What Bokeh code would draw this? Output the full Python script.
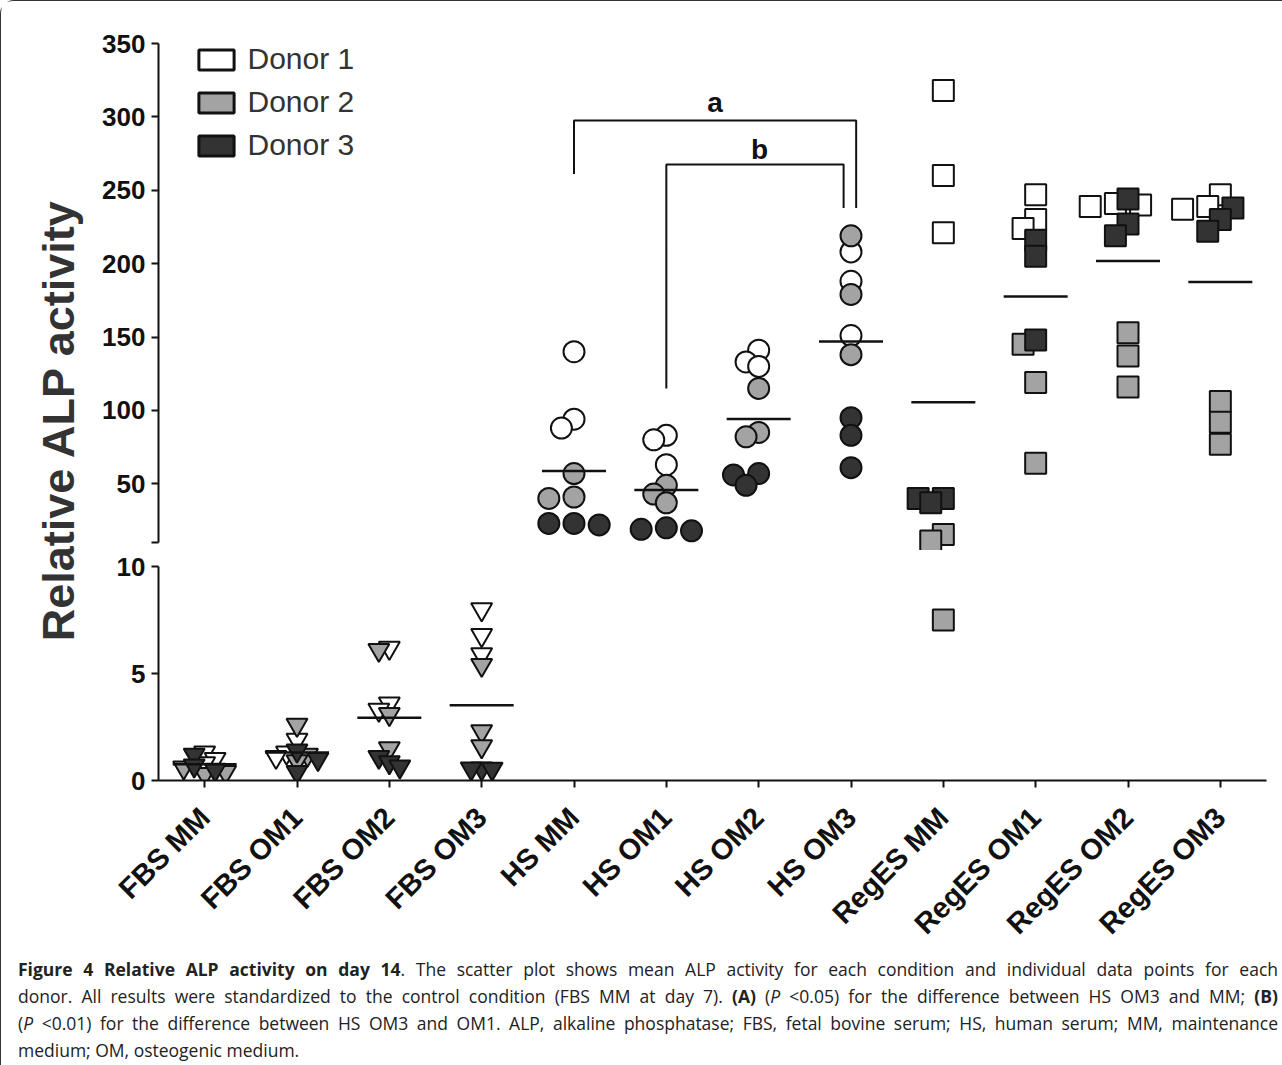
import numpy as np
from bokeh.plotting import figure
from bokeh.models import (Range1d, FixedTicker, Label, Legend, LegendItem, Div,
                          ColumnDataSource)
from bokeh.layouts import column, row
from bokeh.embed import file_html
from bokeh.resources import INLINE
from bokeh.core.properties import value

# ---------------- data ----------------
categories = ["FBS MM", "FBS OM1", "FBS OM2", "FBS OM3",
              "HS MM", "HS OM1", "HS OM2", "HS OM3",
              "RegES MM", "RegES OM1", "RegES OM2", "RegES OM3"]

donor1 = [[1.3, 1.0, 0.8], [1.9, 1.3, 1.1], [6.2, 3.6, 3.3], [8.0, 6.8, 5.9],
          [140, 94, 88], [83, 80, 63], [141, 133, 130], [208, 188, 151],
          [318, 260, 221], [247, 230, 224], [240, 239, 241], [247, 239, 237]]
donor2 = [[0.6, 0.4, 0.3], [2.6, 1.2, 0.9], [6.1, 3.1, 1.5], [5.4, 2.3, 1.6],
          [57, 41, 40], [49, 43, 37], [115, 85, 82], [219, 179, 138],
          [15.5, 11, 7.5], [145, 119, 64], [153, 137, 116], [106, 92, 77]]
donor3 = [[1.2, 0.7, 0.5], [1.4, 1.0, 0.4], [1.1, 0.85, 0.65], [0.56, 0.55, 0.56],
          [23, 22, 23], [20, 18, 19], [57, 56, 49], [95, 83, 61],
          [40, 40, 37], [216, 205, 148], [244, 227, 219], [238, 230, 222]]

donor_names = ["Donor 1", "Donor 2", "Donor 3"]
donor_colors = ["#ffffff", "#a3a3a3", "#333333"]
serum_markers = {"FBS": "inverted_triangle", "HS": "circle", "RegES": "square"}

upper_ticks = [10, 50, 100, 150, 200, 250, 300, 350]
lower_ticks = [0, 5, 10]
axis_break = 10

# significance brackets: (left category, right category, left foot, top, right foot, label)
brackets = [("HS MM", "HS OM3", 261, 297.5, 238, "a"),
            ("HS OM1", "HS OM3", 115, 267.6, 238, "b")]

caption_lines = [
    "<b>Figure 4 Relative ALP activity on day 14</b>. The scatter plot shows mean ALP "
    "activity for each condition and individual data points for each",
    "donor. All results were standardized to the control condition (FBS MM at day 7). "
    "<b>(A)</b> (<i>P</i> &lt;0.05) for the difference between HS OM3 and MM; <b>(B)</b>",
    "(<i>P</i> &lt;0.01) for the difference between HS OM3 and OM1. ALP, alkaline "
    "phosphatase; FBS, fetal bovine serum; HS, human serum; MM, maintenance",
    "medium; OM, osteogenic medium.",
]

# ---------------- geometry ----------------
FONT = "Liberation Sans"
frame_w = 1109
top_border = 42
up_frame_h = 507
lo_frame_h = 230
bottom_border = 176
up_range = (4.55, 350)
lo_range = (0, 10.75)
x_range = Range1d(-0.5, len(categories) - 0.5)

px_per_x = frame_w / (x_range.end - x_range.start)
px_up = up_frame_h / (up_range[1] - up_range[0])
px_lo = lo_frame_h / (lo_range[1] - lo_range[0])

MSIZE = 21


def swarm(ypx, d=MSIZE, step=0.6, mind=0.62, kmax=3):
    """simple beeswarm: horizontal offsets (px) for points at vertical pixel positions"""
    n = len(ypx)
    cands = [0.0]
    for k in range(1, kmax + 1):
        cands += [-k * step * d, k * step * d]
    order = sorted(range(n), key=lambda i: -ypx[i])
    placed, offs = [], [0.0] * n
    for i in order:
        y = ypx[i]
        best, bestd, bestc = None, -1, 0.0
        for c in cands:
            md = min([np.hypot(c - ox, y - oy) for ox, oy in placed] + [1e9])
            if md >= mind * d:
                best = c
                break
            if md > bestd:
                bestd, bestc = md, c
        if best is None:
            best = bestc
        placed.append((best, y))
        offs[i] = best
    return offs


def empty():
    return dict(x=[], y=[], marker=[], fill=[])


pts = {"upper": [empty() for _ in donor_names], "lower": [empty() for _ in donor_names]}
means = {"upper": dict(x=[], y=[]), "lower": dict(x=[], y=[])}
all_donors = [donor1, donor2, donor3]
for ci, cat in enumerate(categories):
    marker = serum_markers[cat.split()[0]]
    vals, donors = [], []
    for di, dd in enumerate(all_donors):
        for v in dd[ci]:
            vals.append(v)
            donors.append(di)
    lower = cat.startswith("FBS")
    ypx = [(v * px_up + 10000) if v >= axis_break else v * px_lo for v in vals]
    offs = swarm(ypx, step=0.5, mind=0.5, kmax=2) if lower else swarm(ypx)
    for v, di, o in zip(vals, donors, offs):
        panel = "upper" if v >= axis_break else "lower"
        d = pts[panel][di]
        d["x"].append(ci + o / px_per_x)
        d["y"].append(v)
        d["marker"].append(marker)
        d["fill"].append(donor_colors[di])
    m = float(np.mean(vals))
    mp = "upper" if m >= axis_break else "lower"
    means[mp]["x"].append(ci)
    means[mp]["y"].append(m)


def style_yaxis(p, ticks, bounds, overrides=None):
    ax = p.yaxis[0]
    ax.ticker = FixedTicker(ticks=ticks)
    ax.bounds = bounds
    if overrides:
        ax.major_label_overrides = overrides
    ax.axis_line_width = 2
    ax.axis_line_color = "#111111"
    ax.major_tick_line_width = 2
    ax.major_tick_line_color = "#111111"
    ax.major_tick_in = 0
    ax.major_tick_out = 7
    ax.minor_tick_line_color = None
    ax.major_label_text_font = FONT
    ax.major_label_text_font_style = "bold"
    ax.major_label_text_font_size = "26px"
    ax.major_label_text_color = "#111111"
    ax.major_label_standoff = 6


YL_W = 98
LEFT = 58
RIGHT = 4

# ---------------- upper panel ----------------
up = figure(width=LEFT + frame_w + RIGHT, height=top_border + up_frame_h,
            x_range=x_range, y_range=Range1d(*up_range),
            x_axis_location=None, output_backend="svg", toolbar_location=None,
            min_border_left=LEFT, min_border_right=RIGHT, min_border_top=top_border,
            min_border_bottom=0, outline_line_color=None)
up.xgrid.visible = False
up.ygrid.visible = False
style_yaxis(up, upper_ticks, (axis_break, 350), {10: ""})

leg_items = []
for di, name in enumerate(donor_names):
    src = ColumnDataSource(pts["upper"][di])
    up.scatter("x", "y", marker="marker", size=MSIZE, fill_color="fill",
               line_color="#111111", line_width=2, source=src)
    proxy = up.rect("x", "y", width=0, height=0, source=src,
                    fill_color=donor_colors[di], line_color="#111111", line_width=3,
                    visible=False)
    leg_items.append(LegendItem(label=name, renderers=[proxy]))

up.scatter(means["upper"]["x"], means["upper"]["y"], marker="dash", size=64,
           line_color="#111111", line_width=2.5)

label_lift = {"a": 12, "b": 10}
label_shift = {"a": 0.0, "b": 0.05}
for lc, rc, yl_, yt, yr, lab in brackets:
    xl = categories.index(lc)
    xr = categories.index(rc) + (0.056 if lab == "a" else -0.08)
    up.line([xl, xl, xr, xr], [yl_, yt, yt, yr], line_color="#111111", line_width=2)
    up.text([(xl + xr) / 2 + label_shift[lab]], [yt + label_lift[lab]], text=[lab],
            text_font=value(FONT), text_font_style="bold", text_font_size="28px",
            text_align="center", text_baseline="middle", text_color="#111111")

legend = Legend(items=leg_items, location=(35.5, 388),
                glyph_width=44, glyph_height=25, label_text_font=FONT,
                label_text_font_size="30px", label_text_color="#333333",
                label_standoff=10, spacing=9, padding=0, margin=0,
                border_line_color=None, background_fill_alpha=0)
up.add_layout(legend, "center")

# ---------------- lower panel ----------------
lo = figure(width=LEFT + frame_w + RIGHT, height=lo_frame_h + bottom_border,
            x_range=x_range, y_range=Range1d(*lo_range),
            output_backend="svg", toolbar_location=None,
            min_border_left=LEFT, min_border_right=RIGHT, min_border_top=0,
            min_border_bottom=bottom_border, outline_line_color=None)
lo.xgrid.visible = False
lo.ygrid.visible = False
style_yaxis(lo, lower_ticks, (0, axis_break))
xa = lo.xaxis[0]
xa.ticker = FixedTicker(ticks=list(range(len(categories))))
xa.major_label_overrides = {i: c for i, c in enumerate(categories)}
xa.major_label_orientation = np.pi / 4
xa.axis_line_width = 2
xa.axis_line_color = "#111111"
xa.major_tick_line_width = 2
xa.major_tick_line_color = "#111111"
xa.major_tick_in = 0
xa.major_tick_out = 7
xa.minor_tick_line_color = None
xa.major_label_text_font = FONT
xa.major_label_text_font_style = "bold"
xa.major_label_text_font_size = "29px"
xa.major_label_text_color = "#111111"
xa.major_label_standoff = 25

for di in range(len(donor_names)):
    lo.scatter("x", "y", marker="marker", size=MSIZE, fill_color="fill",
               line_color="#111111", line_width=2,
               source=ColumnDataSource(pts["lower"][di]))
lo.scatter(means["lower"]["x"], means["lower"]["y"], marker="dash", size=64,
           line_color="#111111", line_width=2.5)

# ---------------- y label ----------------
total_h = top_border + up_frame_h + lo_frame_h + bottom_border
yl = figure(width=YL_W, height=total_h, x_range=Range1d(0, YL_W), y_range=Range1d(0, total_h),
            x_axis_location=None, y_axis_location=None, output_backend="svg",
            toolbar_location=None, min_border=0, outline_line_color=None)
yl.xgrid.visible = False
yl.ygrid.visible = False
yl.add_layout(Label(x=56.5, y=total_h - 418.5, text="Relative ALP activity", angle=np.pi / 2,
                    text_align="center", text_baseline="middle", text_font=FONT,
                    text_font_style="bold", text_font_size="45px", text_color="#333333"))

line_style = "text-align:justify;text-align-last:justify;"
cap_html = ('<div style="font-family:\'Open Sans\';font-size:17.5px;line-height:27px;'
            'padding:0 0 0 12px;margin:-5px 0 0 0;width:1260px;min-width:1260px;'
            'box-sizing:content-box;color:#222222">')
for i, ln in enumerate(caption_lines):
    st = line_style if i < len(caption_lines) - 1 else "text-align:left;"
    cap_html += '<div style="%s">%s</div>' % (st, ln)
cap_html += '</div>'
caption = Div(text=cap_html, width=1280, height=104)

layout = column(row(yl, column(up, lo, spacing=0), spacing=0), caption, spacing=0,
                styles={"border-top": "1.5px solid #333333", "border-left": "1.5px solid #333333",
                        "border-top-left-radius": "14px"})

open("out.html", "w").write(file_html(layout, INLINE))
